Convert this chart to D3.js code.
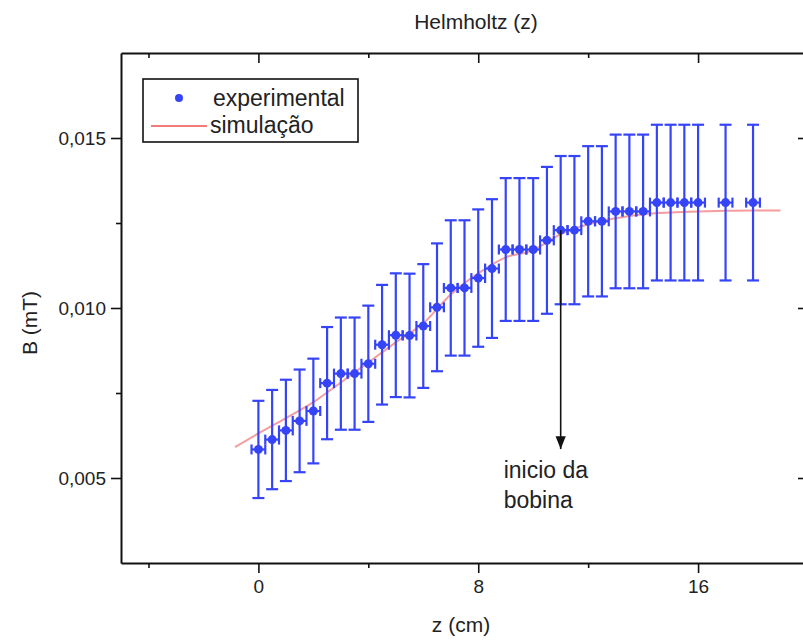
<!DOCTYPE html>
<html>
<head>
<meta charset="utf-8">
<script src="https://cdn.jsdelivr.net/npm/d3@7"></script>
<style>
  body { margin: 0; background: #fff; }
  text { font-family: 'Liberation Sans', Arial, sans-serif; fill: #222; }
</style>
</head>
<body>
<div id="chart"></div>
<script>
// experimental points: position z (cm), field B (mT), error of B
var zExp = [0, 0.5, 1, 1.5, 2, 2.5, 3, 3.5, 4, 4.5, 5, 5.5, 6, 6.5, 7, 7.5, 8, 8.5,
  9, 9.5, 10, 10.5, 11, 11.5, 12, 12.5, 13, 13.5, 14, 14.5, 15, 15.5, 16, 17, 18];
var bExp = [0.00584, 0.00613, 0.00640, 0.00668, 0.00697, 0.00779, 0.00807, 0.00807,
  0.00836, 0.00892, 0.00920, 0.00919, 0.00947, 0.01002, 0.01059, 0.01059, 0.01088,
  0.01116, 0.01172, 0.01172, 0.01172, 0.01199, 0.01229, 0.01229, 0.01255, 0.01255,
  0.01284, 0.01284, 0.01284, 0.01310, 0.01310, 0.01310, 0.01310, 0.01310, 0.01310];
var bErr = [0.00143, 0.00146, 0.00149, 0.00151, 0.00154, 0.00165, 0.00165, 0.00165,
  0.00171, 0.00176, 0.00182, 0.00182, 0.00182, 0.00188, 0.00199, 0.00199, 0.00202,
  0.00204, 0.00210, 0.00210, 0.00210, 0.00216, 0.00218, 0.00218, 0.00221, 0.00221,
  0.00226, 0.00226, 0.00226, 0.00229, 0.00229, 0.00229, 0.00229, 0.00229, 0.00229];
var zErr = 0.25;

// simulation curve
var zSim = [-0.85, 0, 1, 2, 3, 4, 5, 6, 7, 8, 9, 10, 10.5, 11, 12, 13, 14, 15, 16, 17, 18, 19];
var bSim = [0.00591, 0.00631, 0.00676, 0.00723, 0.00781, 0.00840, 0.00899, 0.00955,
  0.01040, 0.01102, 0.01149, 0.01170, 0.01193, 0.01217, 0.01246, 0.01264, 0.01276,
  0.01281, 0.01284, 0.01286, 0.01287, 0.01287];

var xMajor = [0, 8, 16], xMinor = [-4, 4, 12, 20];
var yMajor = [0.005, 0.010, 0.015], yMinor = [0.0075, 0.0125];
var coilStart = 11;

var svg = d3.select('#chart').append('svg')
    .attr('width', 803)
    .attr('height', 640),
  margin = {top: 53, left: 121},
  width = 687,
  height = 510,
  g = svg.append('g').attr('transform', 'translate(' + margin.left + ',' + margin.top + ')');

var x = d3.scaleLinear().domain([-5, 20]).range([0, width]),
  y = d3.scaleLinear().domain([0.0025, 0.0175]).range([height, 0]);

var fmt = function (d) { return d3.format('.3f')(d).replace('.', ','); };

function styleAxis(sel) {
  sel.selectAll('.domain').attr('stroke', '#111').attr('stroke-width', 2);
  sel.selectAll('.tick line').attr('stroke', '#111').attr('stroke-width', 1.6);
  sel.selectAll('.tick text').style('font-size', '19px').attr('fill', '#222');
}

// bottom
g.append('g').attr('transform', 'translate(0,' + height + ')')
  .call(d3.axisBottom(x).tickValues(xMajor).tickSize(10).tickSizeOuter(0).tickPadding(7))
  .call(styleAxis);
g.append('g').attr('transform', 'translate(0,' + height + ')')
  .call(d3.axisBottom(x).tickValues(xMinor).tickSize(5).tickFormat(''))
  .call(styleAxis).select('.domain').remove();
// top
g.append('g')
  .call(d3.axisTop(x).tickValues(xMajor).tickSize(-10).tickSizeOuter(0).tickFormat(''))
  .call(styleAxis);
g.append('g')
  .call(d3.axisTop(x).tickValues(xMinor).tickSize(-5).tickFormat(''))
  .call(styleAxis).select('.domain').remove();
// left
g.append('g')
  .call(d3.axisLeft(y).tickValues(yMajor).tickSize(10).tickSizeOuter(0).tickPadding(5).tickFormat(fmt))
  .call(styleAxis);
g.append('g')
  .call(d3.axisLeft(y).tickValues(yMinor).tickSize(5).tickFormat(''))
  .call(styleAxis).select('.domain').remove();
// right
g.append('g').attr('transform', 'translate(' + width + ',0)')
  .call(d3.axisRight(y).tickValues(yMajor).tickSize(-10).tickSizeOuter(0).tickFormat(''))
  .call(styleAxis);
g.append('g').attr('transform', 'translate(' + width + ',0)')
  .call(d3.axisRight(y).tickValues(yMinor).tickSize(-5).tickFormat(''))
  .call(styleAxis).select('.domain').remove();

// titles
svg.append('text').attr('x', 476).attr('y', 29).attr('text-anchor', 'middle')
  .style('font-size', '21px').text('Helmholtz (z)');
svg.append('text').attr('x', 461).attr('y', 632).attr('text-anchor', 'middle')
  .style('font-size', '21px').text('z (cm)');
svg.append('text').attr('transform', 'translate(37,' + 323 + ') rotate(-90)')
  .attr('text-anchor', 'middle').style('font-size', '21px').text('B (mT)');

// simulation
var line = d3.line()
  .curve(d3.curveMonotoneX)
  .x(function (d) { return x(d[0]); })
  .y(function (d) { return y(d[1]); });

g.append('path')
  .datum(d3.zip(zSim, bSim))
  .attr('fill', 'none')
  .attr('stroke', '#f27c7c')
  .attr('stroke-opacity', 0.75)
  .attr('stroke-width', 2)
  .attr('d', line);

// experimental with error bars
var pts = zExp.map(function (z, i) { return {z: z, b: bExp[i], e: bErr[i]}; });
var blue = '#3644f7';
var pg = g.selectAll('.pt').data(pts).enter().append('g').attr('class', 'pt')
  .attr('stroke', blue).attr('stroke-width', 2.2);

pg.append('line')
  .attr('x1', function (d) { return x(d.z); }).attr('x2', function (d) { return x(d.z); })
  .attr('y1', function (d) { return y(d.b + d.e); }).attr('y2', function (d) { return y(d.b - d.e); });
pg.append('line')
  .attr('x1', function (d) { return x(d.z) - 6; }).attr('x2', function (d) { return x(d.z) + 6; })
  .attr('y1', function (d) { return y(d.b + d.e); }).attr('y2', function (d) { return y(d.b + d.e); });
pg.append('line')
  .attr('x1', function (d) { return x(d.z) - 6; }).attr('x2', function (d) { return x(d.z) + 6; })
  .attr('y1', function (d) { return y(d.b - d.e); }).attr('y2', function (d) { return y(d.b - d.e); });
pg.append('line')
  .attr('x1', function (d) { return x(d.z - zErr); }).attr('x2', function (d) { return x(d.z + zErr); })
  .attr('y1', function (d) { return y(d.b); }).attr('y2', function (d) { return y(d.b); });
pg.append('line')
  .attr('x1', function (d) { return x(d.z - zErr); }).attr('x2', function (d) { return x(d.z - zErr); })
  .attr('y1', function (d) { return y(d.b) - 5; }).attr('y2', function (d) { return y(d.b) + 5; });
pg.append('line')
  .attr('x1', function (d) { return x(d.z + zErr); }).attr('x2', function (d) { return x(d.z + zErr); })
  .attr('y1', function (d) { return y(d.b) - 5; }).attr('y2', function (d) { return y(d.b) + 5; });
pg.append('circle')
  .attr('cx', function (d) { return x(d.z); }).attr('cy', function (d) { return y(d.b); })
  .attr('r', 4.5).attr('fill', blue).attr('stroke', 'none');

// annotation arrow: start of coil
svg.append('defs').append('marker')
  .attr('id', 'arr').attr('viewBox', '0 0 10 10').attr('refX', 10).attr('refY', 5)
  .attr('markerWidth', 8).attr('markerHeight', 8).attr('orient', 'auto')
  .append('path').attr('d', 'M0,1 L10,5 L0,9 Z').attr('fill', '#111');

var iCoil = zExp.indexOf(coilStart);
g.append('line')
  .attr('x1', x(coilStart)).attr('x2', x(coilStart))
  .attr('y1', y(bExp[iCoil])).attr('y2', y(0.00585))
  .attr('stroke', '#111').attr('stroke-width', 1.6)
  .attr('marker-end', 'url(#arr)');
var note = g.append('text').attr('x', x(coilStart) - 57).attr('y', y(0.00585) + 29)
  .style('font-size', '23px');
note.append('tspan').text('inicio da');
note.append('tspan').attr('x', x(coilStart) - 57).attr('dy', 30).text('bobina');

// legend
var lg = svg.append('g').attr('transform', 'translate(143,79)');
lg.append('rect').attr('width', 215).attr('height', 63)
  .attr('fill', '#fff').attr('stroke', '#111').attr('stroke-width', 1.6);
lg.append('circle').attr('cx', 36).attr('cy', 19).attr('r', 4).attr('fill', blue);
lg.append('line').attr('x1', 8).attr('x2', 64).attr('y1', 47).attr('y2', 47)
  .attr('stroke', '#f27c7c').attr('stroke-width', 2);
lg.append('text').attr('x', 70).attr('y', 27).style('font-size', '23px').text('experimental');
lg.append('text').attr('x', 67).attr('y', 54).style('font-size', '23px').text('simulação');
</script>
</body>
</html>
